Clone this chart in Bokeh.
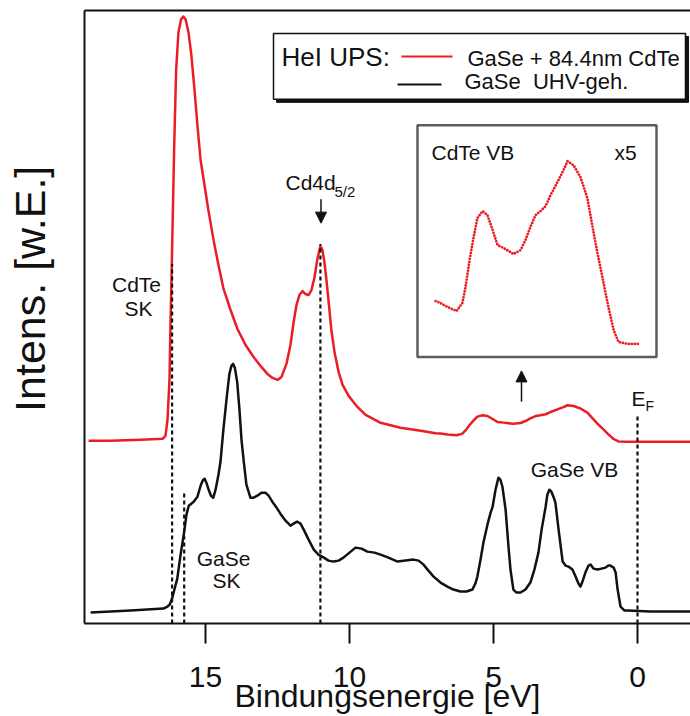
import numpy as np
from bokeh.plotting import figure
from bokeh.models import Range1d, FixedTicker, LinearAxis, Arrow, NormalHead
from bokeh.core.properties import value
from bokeh.embed import file_html
from bokeh.resources import INLINE

# ---------------- data ----------------
# GaSe + 84.4nm CdTe (red), binding energy [eV] and intensity [arb. units]
cdte_E = [19.06, 18.30, 17.26, 16.49, 16.39, 16.32, 16.25, 16.22, 16.16, 16.09,
          16.02, 15.94, 15.85, 15.77, 15.69, 15.59, 15.49, 15.38, 15.28, 15.17,
          15.05, 14.90, 14.72, 14.55, 14.38, 14.13, 13.89, 13.61, 13.33, 13.09,
          12.85, 12.67, 12.50, 12.36, 12.19, 12.05, 11.94, 11.84, 11.74, 11.63,
          11.53, 11.42, 11.32, 11.22, 11.11, 11.01, 10.94, 10.87, 10.80, 10.73,
          10.63, 10.52, 10.38, 10.24, 10.03, 9.76, 9.44, 8.92, 8.23, 7.53,
          7.01, 6.84, 6.60, 6.28, 6.08, 5.97, 5.83, 5.69, 5.56, 5.38,
          5.21, 5.03, 4.86, 4.65, 4.41, 4.31, 4.06, 3.89, 3.72, 3.54,
          3.37, 3.19, 3.02, 2.78, 2.57, 2.43, 2.22, 1.98, 1.74, 1.56,
          1.39, 1.22, 1.01, 0.83, 0.66, 0.35, -0.03, -0.80, -1.84]
cdte_I = [183, 183, 184, 185, 188, 204, 244, 294, 374, 474,
          554, 592, 605, 608, 605, 592, 569, 534, 499, 464,
          442, 414, 384, 359, 336, 314, 295, 279, 267, 258,
          250, 246, 244, 247, 260, 279, 302, 319, 329, 333,
          330, 329, 334, 346, 366, 378, 374, 362, 344, 324,
          294, 272, 252, 239, 228, 218, 209, 201, 196, 193,
          190.6, 190.2, 189.4, 188.6, 190.2, 193.4, 198.8, 203.4, 207.2, 208.6,
          207.8, 204.8, 201.8, 201.2, 200.4, 200.0, 200.8, 202.8, 205.4, 207.8,
          208.6, 209.6, 211.8, 214.4, 216.8, 218.6, 217.8, 215.4, 211.2, 205.4,
          200.2, 195.4, 189.4, 184.8, 182.4, 182, 182, 182, 182]

# GaSe UHV-geh. (black)
gase_E = [18.99, 17.60, 16.46, 16.32, 16.24, 16.15, 16.08, 15.98, 15.87, 15.75,
          15.66, 15.58, 15.41, 15.28, 15.17, 15.10, 15.03, 14.97, 14.89, 14.81,
          14.73, 14.65, 14.55, 14.48, 14.38, 14.25, 14.17, 14.10, 14.04, 13.98,
          13.90, 13.82, 13.75, 13.67, 13.58, 13.44, 13.33, 13.20, 13.06, 12.92,
          12.81, 12.68, 12.53, 12.40, 12.22, 12.05, 11.94, 11.82, 11.70, 11.59,
          11.42, 11.24, 11.08, 10.89, 10.73, 10.56, 10.38, 10.21, 10.00, 9.79,
          9.58, 9.38, 9.13, 8.92, 8.65, 8.33, 8.06, 7.78, 7.60, 7.43,
          7.26, 7.08, 6.84, 6.60, 6.39, 6.15, 5.94, 5.73, 5.63, 5.56,
          5.45, 5.35, 5.21, 5.10, 5.03, 4.93, 4.83, 4.76, 4.69, 4.58,
          4.48, 4.41, 4.31, 4.20, 4.06, 3.89, 3.72, 3.58, 3.44, 3.33,
          3.19, 3.13, 3.06, 2.99, 2.92, 2.85, 2.74, 2.60, 2.50, 2.40,
          2.26, 2.15, 2.05, 1.98, 1.91, 1.81, 1.70, 1.63, 1.53, 1.39,
          1.25, 1.11, 1.01, 0.94, 0.83, 0.76, 0.69, 0.59, 0.45, 0.35,
          -0.45, -1.84]
gase_I = [11, 13, 15, 17, 19, 26, 34, 45, 68, 90,
          109, 118, 122, 127, 138, 143, 145, 141, 134, 128,
          126, 134, 149, 162, 194, 230, 250, 258, 260, 256,
          242, 214, 184, 162, 139, 126, 126, 128, 131, 131,
          128, 122, 116, 110, 103, 98, 100, 102, 100, 94,
          84, 74, 69, 66, 63, 62, 63, 66, 71, 76,
          75, 72, 71, 69, 66, 62, 63, 64, 63, 59,
          53, 47, 41, 37, 34, 32, 32, 34, 40, 47,
          64, 81, 99, 111, 117, 134, 146, 144, 137, 114,
          77, 54, 34, 31, 31, 34, 41, 54, 71, 94,
          117, 129, 134, 132, 127, 121, 94, 62, 58, 57,
          54, 47, 40, 37, 42, 51, 58, 59, 55, 54,
          55, 56, 58, 58, 56, 51, 34, 17, 13, 13,
          12, 12]

# marker lines: CdTe SK, GaSe SK, Cd4d5/2, E_F  (energy, top intensity)
marker_E = [16.16, 15.74, 11.01, 0.0]
marker_top = [360, 132, 380, 209]

x_ticks = [15, 10, 5, 0]
inset_gain = 5
inset_E_lo, inset_E_hi = -0.05, 7.05

# ---------------- layout helpers (reference-pixel positions -> data) ----------------
PX_PER_EV = 28.8
X0_PX = 637   # pixel column of 0 eV
Y0_PX = 624   # pixel row of the bottom axis


def ex(px):
    return (X0_PX - px) / PX_PER_EV


def iy(py):
    return Y0_PX - py


RED = "#ec1c24"
BLACK = "#111111"
FONT = "Liberation Sans"
NB = "\u00a0"

p = figure(width=690, height=716,
           x_range=Range1d(ex(84), ex(690)), y_range=Range1d(0, iy(10)),
           output_backend="svg", toolbar_location=None,
           min_border_left=84, min_border_right=0, min_border_top=10, min_border_bottom=92)
p.grid.visible = False
p.outline_line_color = None
p.background_fill_color = "white"
p.border_fill_color = "white"

# bottom axis
xa = p.below[0]
xa.ticker = FixedTicker(ticks=x_ticks)
xa.major_tick_out = 20
xa.major_tick_in = 0
xa.minor_tick_line_color = None
xa.major_tick_line_width = 2
xa.axis_line_width = 2
xa.axis_line_color = BLACK
xa.major_tick_line_color = BLACK
xa.major_label_text_font = FONT
xa.major_label_text_font_size = "30px"
xa.major_label_text_color = BLACK
xa.major_label_standoff = 23
xa.axis_label = "Bindungsenergie [eV]"
xa.axis_label_text_font = FONT
xa.axis_label_text_font_size = "32px"
xa.axis_label_text_font_style = "normal"
xa.axis_label_text_color = BLACK
xa.axis_label_standoff = -12

# left axis
ya = p.left[0]
ya.ticker = FixedTicker(ticks=[])
ya.major_tick_out = 0
ya.major_tick_in = 0
ya.minor_tick_line_color = None
ya.major_label_standoff = 0
ya.axis_line_width = 2
ya.axis_line_color = BLACK
ya.axis_label = NB * 4 + "\u2009" + "Intens. [w.E.]"
ya.axis_label_text_font = FONT
ya.axis_label_text_font_size = "43px"
ya.axis_label_text_font_style = "normal"
ya.axis_label_text_color = BLACK
ya.axis_label_standoff = 31

# top frame line
top = LinearAxis(ticker=FixedTicker(ticks=[]), major_tick_out=0, major_tick_in=0,
                 minor_tick_out=0, minor_tick_in=0, major_label_standoff=0,
                 major_label_text_font_size="0px", axis_line_width=2, axis_line_color=BLACK)
p.add_layout(top, "above")

# ---------------- spectra ----------------
p.line(cdte_E, cdte_I, line_color=RED, line_width=2.5, line_join="round")
p.line(gase_E, gase_I, line_color=BLACK, line_width=2.5, line_join="round")

# marker dashed lines
p.segment(x0=marker_E, y0=[0] * len(marker_E), x1=marker_E, y1=marker_top,
          line_color=BLACK, line_width=2.2, line_dash="4 3")

# ---------------- inset (CdTe VB x5) ----------------
p.quad(left=[ex(417)], right=[ex(656)], top=[iy(125)], bottom=[iy(357)],
       fill_color="white", line_color="#5c5c5c", line_width=2.5)
E = np.array(cdte_E)
I = np.array(cdte_I)
m = (E >= inset_E_lo) & (E <= inset_E_hi)
red_base = cdte_I[-1]
inset_I = iy(344) + inset_gain * (I[m] - red_base)
p.line(E[m], inset_I, line_color=RED, line_width=2.8, line_dash="0 3", line_cap="round")


def label(px_x, px_y, txt, size, align="left", color=BLACK):
    p.text(x=[ex(px_x)], y=[iy(px_y)], text=[txt], text_font=value(FONT),
           text_font_size=value(f"{size}px"), text_align=align,
           text_baseline="middle", text_color=color)


label(431, 152, "CdTe VB", 21)
label(614, 152, "x5", 21)

# ---------------- legend box ----------------
p.quad(left=[ex(276)], right=[ex(688)], top=[iy(36)], bottom=[iy(102)],
       fill_color=BLACK, line_color=BLACK)
p.quad(left=[ex(273)], right=[ex(685)], top=[iy(33)], bottom=[iy(99)],
       fill_color="white", line_color=BLACK, line_width=1.5)
label(281, 57, "HeI UPS:", 26)
p.line([ex(401), ex(452)], [iy(56), iy(56)], line_color=RED, line_width=2)
label(467, 58, "GaSe + 84.4nm CdTe", 22)
p.line([ex(397), ex(441)], [iy(84), iy(84)], line_color=BLACK, line_width=2)
label(464, 81, "GaSe" + NB + " UHV-geh.", 22)

# ---------------- annotations ----------------
label(136, 284, "CdTe", 21, align="center")
label(138, 308, "SK", 21, align="center")
label(223, 559, "GaSe", 21, align="center")
label(226, 581, "SK", 21, align="center")
label(285, 182, "Cd4d", 21)
label(334, 191, "5/2", 15)
label(574, 470, "GaSe VB", 21, align="center")
label(631, 399, "E", 21)
label(645, 406, "F", 14)

p.add_layout(Arrow(end=NormalHead(size=11, fill_color=BLACK, line_color=BLACK),
                   x_start=ex(320.5), y_start=iy(199), x_end=ex(320.5), y_end=iy(223),
                   line_color=BLACK, line_width=1.5))
p.add_layout(Arrow(end=NormalHead(size=11, fill_color=BLACK, line_color=BLACK),
                   x_start=ex(521), y_start=iy(402), x_end=ex(521), y_end=iy(371),
                   line_color=BLACK, line_width=1.5))

open("out.html", "w").write(file_html(p, INLINE))
